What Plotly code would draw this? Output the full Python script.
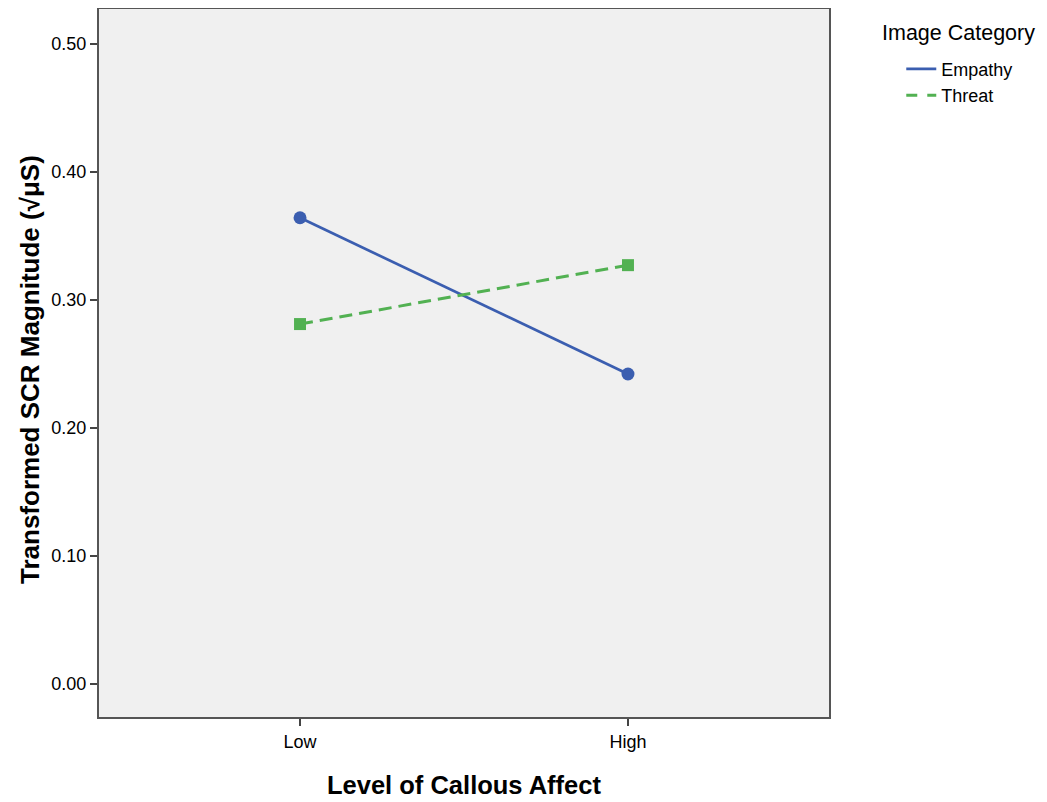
import plotly.graph_objects as go

categories = ["Low", "High"]
empathy = [0.364, 0.242]
threat = [0.281, 0.327]
y_ticks = [0.0, 0.1, 0.2, 0.3, 0.4, 0.5]
y_tick_labels = ["0.00", "0.10", "0.20", "0.30", "0.40", "0.50"]

FONT = "Liberation Sans, Arial, sans-serif"
BLUE = "#3b5eb0"
GREEN = "#52b152"
DASH = "13px,7px"

x_idx = list(range(len(categories)))

fig = go.Figure()
fig.add_trace(go.Scatter(
    x=x_idx, y=empathy, name="Empathy", mode="lines+markers",
    line=dict(color=BLUE, width=2.7),
    marker=dict(symbol="circle", size=13, color=BLUE),
    showlegend=False, legendgroup="emp",
))
fig.add_trace(go.Scatter(
    x=x_idx, y=threat, name="Threat", mode="lines+markers",
    line=dict(color=GREEN, width=3, dash=DASH),
    marker=dict(symbol="square", size=12, color=GREEN),
    showlegend=False, legendgroup="thr",
))
# legend-only entries (line samples without markers)
fig.add_trace(go.Scatter(
    x=[None], y=[None], name="Empathy", mode="lines",
    line=dict(color=BLUE, width=2.7), legendgroup="emp",
))
fig.add_trace(go.Scatter(
    x=[None], y=[None], name="Threat", mode="lines",
    line=dict(color=GREEN, width=3, dash="11px,10px"), legendgroup="thr",
))

# page body has an 8px margin, so the figure is sized to end at the window edge
fig.update_layout(
    width=1039, height=794,
    margin=dict(l=91, r=218, t=1, b=85, autoexpand=False),
    paper_bgcolor="white",
    plot_bgcolor="#f0f0f0",
    font=dict(family=FONT, color="#000000", size=18),
    legend=dict(
        x=1.099, y=0.941, xanchor="left", yanchor="top",
        font=dict(size=18, family=FONT),
        itemwidth=30, tracegroupgap=0,
        bgcolor="rgba(0,0,0,0)",
    ),
    annotations=[
        dict(text="Image Category", xref="paper", yref="paper",
             x=(880 - 99) / 730, y=(717 - 33) / 708, xanchor="left", yanchor="middle",
             showarrow=False, font=dict(size=21.5, family=FONT)),
        dict(text="<b>Level of Callous Affect</b>", xref="paper", yref="paper",
             x=(464 - 99) / 730, y=(717 - 785) / 708, xanchor="center", yanchor="middle",
             showarrow=False, font=dict(size=25.5, family=FONT)),
        dict(text="<b>Transformed SCR Magnitude (√μS)</b>", xref="paper", yref="paper",
             x=(30 - 99) / 730, y=(717 - 370) / 708, xanchor="center", yanchor="middle",
             textangle=-90, showarrow=False, font=dict(size=26, family=FONT)),
    ],
    showlegend=True,
)

fig.update_xaxes(
    range=[-0.613, 1.613],
    tickmode="array", tickvals=x_idx, ticktext=categories,
    showgrid=False, zeroline=False, automargin=False,
    ticks="outside", ticklen=7, tickwidth=1.5, tickcolor="#444",
    showline=True, linecolor="#555", linewidth=2, mirror=True,
    tickfont=dict(size=18, family=FONT),
)
fig.update_yaxes(
    range=[-0.0258, 0.527],
    tickmode="array", tickvals=y_ticks, ticktext=y_tick_labels,
    showgrid=False, zeroline=False, automargin=False,
    ticks="outside", ticklen=7, tickwidth=1.5, tickcolor="#444",
    showline=True, linecolor="#555", linewidth=2, mirror=True,
    tickfont=dict(size=18, family=FONT),
)

fig.write_html("out.html")
